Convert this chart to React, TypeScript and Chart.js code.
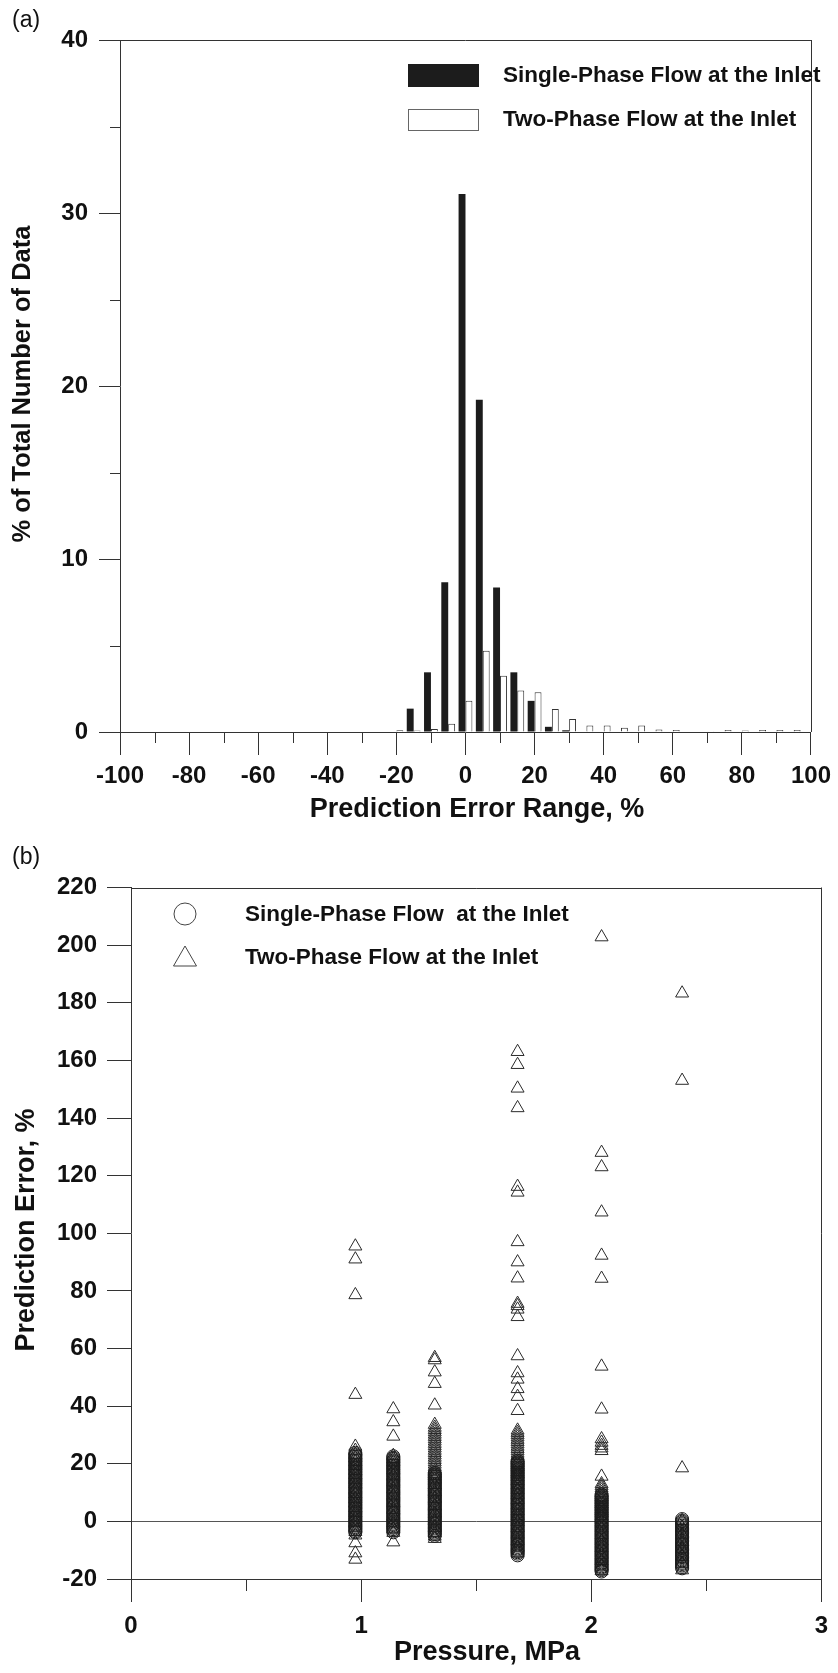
import React, { useEffect, useRef } from "react";
import { Chart, registerables } from "chart.js";

Chart.register(...registerables);

const FONT = "'Liberation Sans', Arial, Helvetica, sans-serif";
const LINE = "#333333";
const INK = "#111111";

// ---------- Panel (a): histogram ----------
const errorBins = [-20, -15, -10, -5, 0, 5, 10, 15, 20, 25, 30, 35, 40, 45, 50, 55, 60, 65, 70, 75, 80, 85, 90, 95, 100];
const singlePhasePct = [null, 1.35, 3.45, 8.65, 31.1, 19.2, 8.35, 3.45, 1.8, 0.3, 0.1, null, null, null, null, null, null, null, null, null, null, null, null, null, null];
const twoPhasePct = [0.1, 0.08, 0.18, 0.47, 1.8, 4.7, 3.25, 2.4, 2.3, 1.33, 0.75, 0.37, 0.37, 0.25, 0.37, 0.15, 0.12, null, 0.05, 0.12, 0.08, 0.12, 0.12, 0.12, 0.05];
const xTickLabelsA = [-100, -80, -60, -40, -20, 0, 20, 40, 60, 80, 100];
const yTickLabelsA = [0, 10, 20, 30, 40];
const legendA = ["Single-Phase Flow at the Inlet", "Two-Phase Flow at the Inlet"];

// ---------- Panel (b): scatter ----------
const pressures = [0.975, 1.14, 1.32, 1.68, 2.045, 2.395];

const singleP1 = [23.8, 23.3, 22.9, 22.4, 21.9, 21.5, 21.0, 20.6, 20.1, 19.6, 19.2, 18.7, 18.3, 17.8, 17.3, 16.9, 16.4, 16.0, 15.5, 15.0, 14.6, 14.1, 13.7, 13.2, 12.7, 12.3, 11.8, 11.4, 10.9, 10.4, 10.0, 9.5, 9.1, 8.6, 8.1, 7.7, 7.2, 6.8, 6.3, 5.8, 5.4, 4.9, 4.5, 4.0, 3.5, 3.1, 2.6, 2.2, 1.7, 1.2, 0.8, 0.3, -0.1, -0.6, -1.1, -1.5, -2.0, -2.4, -2.9, -3.4, -3.8];
const singleP2 = [22.6, 22.1, 21.7, 21.2, 20.8, 20.3, 19.8, 19.4, 18.9, 18.5, 18.0, 17.5, 17.1, 16.6, 16.2, 15.7, 15.2, 14.8, 14.3, 13.9, 13.4, 12.9, 12.5, 12.0, 11.6, 11.1, 10.6, 10.2, 9.7, 9.3, 8.8, 8.3, 7.9, 7.4, 7.0, 6.5, 6.0, 5.6, 5.1, 4.7, 4.2, 3.7, 3.3, 2.8, 2.4, 1.9, 1.4, 1.0, 0.5, 0.1, -0.4, -0.9, -1.3, -1.8, -2.2, -2.7, -3.2, -3.8];
const singleP3 = [16.8, 16.3, 15.9, 15.4, 15.0, 14.5, 14.0, 13.6, 13.1, 12.7, 12.2, 11.7, 11.3, 10.8, 10.4, 9.9, 9.4, 9.0, 8.5, 8.1, 7.6, 7.1, 6.7, 6.2, 5.8, 5.3, 4.8, 4.4, 3.9, 3.5, 3.0, 2.5, 2.1, 1.6, 1.2, 0.7, 0.2, -0.2, -0.7, -1.1, -1.6, -2.1, -2.5, -3.0, -3.4, -3.9, -4.4, -5.0];
const singleP4 = [21.0, 20.5, 20.1, 19.6, 19.2, 18.7, 18.2, 17.8, 17.3, 16.9, 16.4, 15.9, 15.5, 15.0, 14.6, 14.1, 13.6, 13.2, 12.7, 12.3, 11.8, 11.3, 10.9, 10.4, 10.0, 9.5, 9.0, 8.6, 8.1, 7.7, 7.2, 6.7, 6.3, 5.8, 5.4, 4.9, 4.4, 4.0, 3.5, 3.1, 2.6, 2.1, 1.7, 1.2, 0.8, 0.3, -0.2, -0.6, -1.1, -1.5, -2.0, -2.5, -2.9, -3.4, -3.8, -4.3, -4.8, -5.2, -5.7, -6.1, -6.6, -7.1, -7.5, -8.0, -8.4, -8.9, -9.4, -9.8, -10.3, -10.7, -11.2, -11.8];
const singleP5 = [9.3, 8.8, 8.4, 7.9, 7.4, 7.0, 6.5, 6.1, 5.6, 5.1, 4.7, 4.2, 3.8, 3.3, 2.8, 2.4, 1.9, 1.5, 1.0, 0.5, 0.1, -0.4, -0.8, -1.3, -1.8, -2.2, -2.7, -3.1, -3.6, -4.1, -4.5, -5.0, -5.4, -5.9, -6.4, -6.8, -7.3, -7.7, -8.2, -8.7, -9.1, -9.6, -10.0, -10.5, -11.0, -11.4, -11.9, -12.3, -12.8, -13.3, -13.7, -14.2, -14.6, -15.1, -15.6, -16.0, -16.5, -16.9, -17.4];
const singleP6 = [0.8, 0.3, -0.1, -0.6, -1.0, -1.5, -2.0, -2.4, -2.9, -3.3, -3.8, -4.3, -4.7, -5.2, -5.6, -6.1, -6.6, -7.0, -7.5, -7.9, -8.4, -8.9, -9.3, -9.8, -10.2, -10.7, -11.2, -11.6, -12.1, -12.5, -13.0, -13.5, -13.9, -14.4, -14.8, -15.3, -15.8, -16.3];

const twoP1 = [95.5, 91.0, 78.6, 44.0, 26.0, 24.6, 23.2, 22.0, 20.7, 19.3, 17.6, 16.2, 14.5, 12.9, 11.1, 9.6, 7.8, 6.3, 4.7, 3.0, 1.4, -0.4, -2.1, -3.6, -4.8, -7.5, -11.0, -13.2];
const twoP2 = [39.0, 34.5, 29.5, 22.8, 21.7, 20.6, 19.4, 17.8, 15.9, 13.6, 11.2, 9.0, 6.5, 4.1, 1.8, -0.6, -2.7, -3.9, -7.2];
const twoP3 = [56.8, 56.0, 51.8, 47.8, 40.3, 33.6, 32.6, 31.8, 31.0, 30.2, 29.4, 28.6, 27.8, 27.0, 26.2, 25.4, 24.6, 23.8, 23.0, 22.2, 21.4, 20.6, 19.8, 19.0, 18.2, 17.4, 16.6, 15.8, 14.6, 12.7, 10.2, 7.9, 5.4, 2.8, 0.3, -2.2, -4.0, -5.2, -6.0];
const twoP4 = [163.0, 158.5, 150.3, 143.5, 116.2, 114.2, 97.0, 90.0, 84.4, 75.6, 74.8, 73.6, 71.0, 57.4, 51.5, 49.3, 46.0, 43.3, 38.4, 31.6, 30.8, 30.0, 29.2, 28.4, 27.6, 26.8, 26.0, 25.2, 24.4, 23.6, 22.8, 22.0, 21.2, 20.4, 19.6, 18.8, 18.0, 17.2, 16.4, 15.5, 14.1, 12.6, 11.0, 9.3, 7.5, 5.6, 3.7, 1.8, -0.2, -2.3, -4.5, -6.8, -9.0, -11.0];
const twoP5 = [202.8, 128.0, 123.0, 107.3, 92.3, 84.3, 53.8, 38.9, 28.6, 27.4, 26.3, 25.4, 24.5, 15.6, 13.0, 12.3, 11.6, 10.8, 10.0, 9.2, 8.4, 7.6, 6.8, 6.0, 5.2, 4.4, 3.6, 2.8, 2.0, 1.2, -0.3, -2.4, -4.6, -6.9, -9.2, -11.5, -13.7, -15.6, -17.2];
const twoP6 = [183.3, 153.0, 18.5, 0.2, -2.1, -4.5, -7.0, -9.6, -12.2, -14.6, -16.9];

const singleByPressure = [singleP1, singleP2, singleP3, singleP4, singleP5, singleP6];
const twoByPressure = [twoP1, twoP2, twoP3, twoP4, twoP5, twoP6];
const xTickLabelsB = [0, 1, 2, 3];
const yTickLabelsB = [-20, 0, 20, 40, 60, 80, 100, 120, 140, 160, 180, 200, 220];
const legendB = ["Single-Phase Flow  at the Inlet", "Two-Phase Flow at the Inlet"];

function line(ctx: CanvasRenderingContext2D, x1: number, y1: number, x2: number, y2: number) {
  ctx.beginPath();
  ctx.moveTo(x1, y1);
  ctx.lineTo(x2, y2);
  ctx.stroke();
}

function crisp(v: number) {
  return Math.round(v) + 0.5;
}

function drawVerticalText(ctx: CanvasRenderingContext2D, text: string, x: number, y: number) {
  ctx.save();
  ctx.translate(x, y);
  ctx.rotate(-Math.PI / 2);
  ctx.textAlign = "center";
  ctx.textBaseline = "middle";
  ctx.fillText(text, 0, 0);
  ctx.restore();
}

const decorA = {
  id: "decorA",
  afterDraw(chart: any) {
    const { ctx, chartArea: ca, scales } = chart;
    ctx.save();
    ctx.strokeStyle = LINE;
    ctx.lineWidth = 1;
    line(ctx, ca.left, crisp(ca.top), ca.right, crisp(ca.top));
    line(ctx, crisp(ca.right), ca.top, crisp(ca.right), ca.bottom);
    scales.y.ticks.forEach((t: any) => {
      if (!yTickLabelsA.includes(t.value)) {
        const py = crisp(scales.y.getPixelForValue(t.value));
        line(ctx, ca.left - 10, py, ca.left, py);
      }
    });
    scales.x.ticks.forEach((t: any) => {
      if (!xTickLabelsA.includes(t.value)) {
        const px = crisp(scales.x.getPixelForValue(t.value));
        line(ctx, px, ca.bottom, px, ca.bottom + 11);
      }
    });
    ctx.fillStyle = INK;
    ctx.font = `bold 27px ${FONT}`;
    ctx.textAlign = "center";
    ctx.textBaseline = "middle";
    ctx.fillText("Prediction Error Range, %", 477, 810);
    ctx.font = `bold 25.5px ${FONT}`;
    drawVerticalText(ctx, "% of Total Number of Data", 23, 384);
    ctx.font = `23px ${FONT}`;
    ctx.textAlign = "left";
    ctx.fillText("(a)", 12, 21);
    ctx.fillStyle = "#1c1c1c";
    ctx.fillRect(408, 64, 71, 23);
    ctx.fillStyle = "#ffffff";
    ctx.fillRect(408, 109, 71, 22);
    ctx.strokeStyle = "#666";
    ctx.strokeRect(408.5, 109.5, 70, 21);
    ctx.fillStyle = INK;
    ctx.font = `bold 22.5px ${FONT}`;
    ctx.fillText(legendA[0], 503, 76);
    ctx.fillText(legendA[1], 503, 120);
    ctx.restore();
  },
};

const decorB = {
  id: "decorB",
  afterDraw(chart: any) {
    const { ctx, chartArea: ca, scales } = chart;
    ctx.save();
    ctx.strokeStyle = LINE;
    ctx.lineWidth = 1;
    line(ctx, ca.left, crisp(ca.top), ca.right, crisp(ca.top));
    line(ctx, crisp(ca.right), ca.top, crisp(ca.right), ca.bottom);
    scales.y.ticks.forEach((t: any) => {
      if (!yTickLabelsB.includes(t.value)) {
        const py = crisp(scales.y.getPixelForValue(t.value));
        line(ctx, ca.left - 12, py, ca.left, py);
      }
    });
    scales.x.ticks.forEach((t: any) => {
      if (!xTickLabelsB.includes(t.value)) {
        const px = crisp(scales.x.getPixelForValue(t.value));
        line(ctx, px, ca.bottom, px, ca.bottom + 12);
      }
    });
    ctx.fillStyle = INK;
    ctx.font = `bold 27px ${FONT}`;
    ctx.textAlign = "center";
    ctx.textBaseline = "middle";
    ctx.fillText("Pressure, MPa", 487, 813);
    ctx.font = `bold 27px ${FONT}`;
    drawVerticalText(ctx, "Prediction Error, %", 27, 390);
    ctx.font = `23px ${FONT}`;
    ctx.textAlign = "left";
    ctx.fillText("(b)", 12, 18);
    ctx.strokeStyle = "#444";
    ctx.beginPath();
    ctx.arc(185, 74, 11, 0, Math.PI * 2);
    ctx.stroke();
    ctx.beginPath();
    ctx.moveTo(185, 106);
    ctx.lineTo(196.5, 126);
    ctx.lineTo(173.5, 126);
    ctx.closePath();
    ctx.stroke();
    ctx.fillStyle = INK;
    ctx.font = `bold 22.5px ${FONT}`;
    ctx.fillText(legendB[0], 245, 75);
    ctx.fillText(legendB[1], 245, 118);
    ctx.restore();
  },
};

const tickFont = { family: FONT, size: 24, weight: "bold" as const };

function HistogramChart() {
  const ref = useRef<HTMLCanvasElement>(null);
  useEffect(() => {
    if (!ref.current) return;
    const singleData = errorBins
      .map((b, i) => ({ x: b, y: singlePhasePct[i] }))
      .filter((d) => d.y !== null);
    const twoData = errorBins
      .map((b, i) => ({ x: b, y: twoPhasePct[i] }))
      .filter((d) => d.y !== null);
    const chart = new Chart(ref.current, {
      type: "bar",
      data: {
        datasets: [
          {
            label: legendA[0],
            data: singleData as any,
            backgroundColor: "#1c1c1c",
            borderWidth: 0,
            categoryPercentage: 0.8,
            barPercentage: 1,
          },
          {
            label: legendA[1],
            data: twoData as any,
            backgroundColor: "#ffffff",
            borderColor: "#333",
            borderWidth: 1,
            categoryPercentage: 0.8,
            barPercentage: 1,
          },
        ],
      },
      options: {
        responsive: false,
        animation: false,
        layout: { padding: { top: 40, right: 21, left: 0, bottom: 0 } },
        plugins: { legend: { display: false }, tooltip: { enabled: false } },
        scales: {
          x: {
            type: "linear",
            min: -100,
            max: 100,
            offset: false,
            afterFit: (s: any) => {
              s.height = 108;
            },
            ticks: {
              stepSize: 10,
              autoSkip: false,
              maxRotation: 0,
              padding: 7,
              color: INK,
              font: tickFont,
              callback: (v: any) => (xTickLabelsA.includes(Number(v)) ? String(v) : ""),
            },
            grid: {
              offset: false,
              drawOnChartArea: false,
              drawTicks: true,
              tickLength: 23,
              tickWidth: 1,
              tickColor: (c: any) => (xTickLabelsA.includes(c.tick?.value) ? LINE : "rgba(0,0,0,0)"),
            },
            border: { display: true, color: LINE, width: 1 },
          },
          y: {
            min: 0,
            max: 40,
            afterFit: (s: any) => {
              s.width = 120;
            },
            ticks: {
              stepSize: 5,
              padding: 11,
              color: INK,
              font: tickFont,
              callback: (v: any) => (yTickLabelsA.includes(Number(v)) ? String(v) : ""),
            },
            grid: {
              drawOnChartArea: false,
              drawTicks: true,
              tickLength: 21,
              tickWidth: 1,
              tickColor: (c: any) => (yTickLabelsA.includes(c.tick?.value) ? LINE : "rgba(0,0,0,0)"),
            },
            border: { display: true, color: LINE, width: 1 },
          },
        },
      },
      plugins: [decorA],
    });
    return () => chart.destroy();
  }, []);
  return <canvas ref={ref} width={838} height={840} style={{ display: "block" }} />;
}

function ScatterChart() {
  const ref = useRef<HTMLCanvasElement>(null);
  useEffect(() => {
    if (!ref.current) return;
    const singleData: { x: number; y: number }[] = [];
    singleByPressure.forEach((vals, i) => vals.forEach((v) => singleData.push({ x: pressures[i], y: v })));
    const twoData: { x: number; y: number }[] = [];
    twoByPressure.forEach((vals, i) => vals.forEach((v) => twoData.push({ x: pressures[i], y: v })));
    const chart = new Chart(ref.current, {
      type: "scatter",
      data: {
        datasets: [
          {
            label: legendB[0],
            data: singleData,
            pointStyle: "circle",
            pointRadius: 6.5,
            borderColor: "#1a1a1a",
            borderWidth: 1,
            backgroundColor: "rgba(0,0,0,0)",
          },
          {
            label: legendB[1],
            data: twoData,
            pointStyle: "triangle",
            pointRadius: 7.5,
            borderColor: "#2a2a2a",
            borderWidth: 1,
            backgroundColor: "rgba(0,0,0,0)",
          },
        ],
      },
      options: {
        responsive: false,
        animation: false,
        layout: { padding: { top: 47.5, right: 6, left: 0, bottom: 0 } },
        plugins: { legend: { display: false }, tooltip: { enabled: false } },
        scales: {
          x: {
            type: "linear",
            min: 0,
            max: 3,
            afterFit: (s: any) => {
              s.height = 94;
            },
            ticks: {
              stepSize: 0.5,
              autoSkip: false,
              maxRotation: 0,
              padding: 10,
              color: INK,
              font: tickFont,
              callback: (v: any) => (xTickLabelsB.includes(Number(v)) ? String(v) : ""),
            },
            grid: {
              drawOnChartArea: false,
              drawTicks: true,
              tickLength: 23,
              tickWidth: 1,
              tickColor: (c: any) => (xTickLabelsB.includes(c.tick?.value) ? LINE : "rgba(0,0,0,0)"),
            },
            border: { display: true, color: LINE, width: 1 },
          },
          y: {
            min: -20,
            max: 220,
            afterFit: (s: any) => {
              s.width = 131;
            },
            ticks: {
              stepSize: 10,
              padding: 10,
              color: INK,
              font: tickFont,
              callback: (v: any) => (yTickLabelsB.includes(Number(v)) ? String(v) : ""),
            },
            grid: {
              drawOnChartArea: true,
              drawTicks: true,
              tickLength: 24,
              tickWidth: 1,
              color: (c: any) => (c.tick?.value === 0 ? "#555" : "rgba(0,0,0,0)"),
              tickColor: (c: any) => (yTickLabelsB.includes(c.tick?.value) ? LINE : "rgba(0,0,0,0)"),
            },
            border: { display: true, color: LINE, width: 1 },
          },
        },
      },
      plugins: [decorB],
    });
    return () => chart.destroy();
  }, []);
  return <canvas ref={ref} width={838} height={833} style={{ display: "block" }} />;
}

export default function App() {
  useEffect(() => {
    document.body.style.margin = "0";
  }, []);
  return (
    <div style={{ position: "absolute", left: 0, top: 0, width: 838, height: 1673, background: "#fff" }}>
      <div style={{ position: "absolute", left: 0, top: 0 }}>
        <HistogramChart />
      </div>
      <div style={{ position: "absolute", left: 0, top: 840 }}>
        <ScatterChart />
      </div>
    </div>
  );
}
